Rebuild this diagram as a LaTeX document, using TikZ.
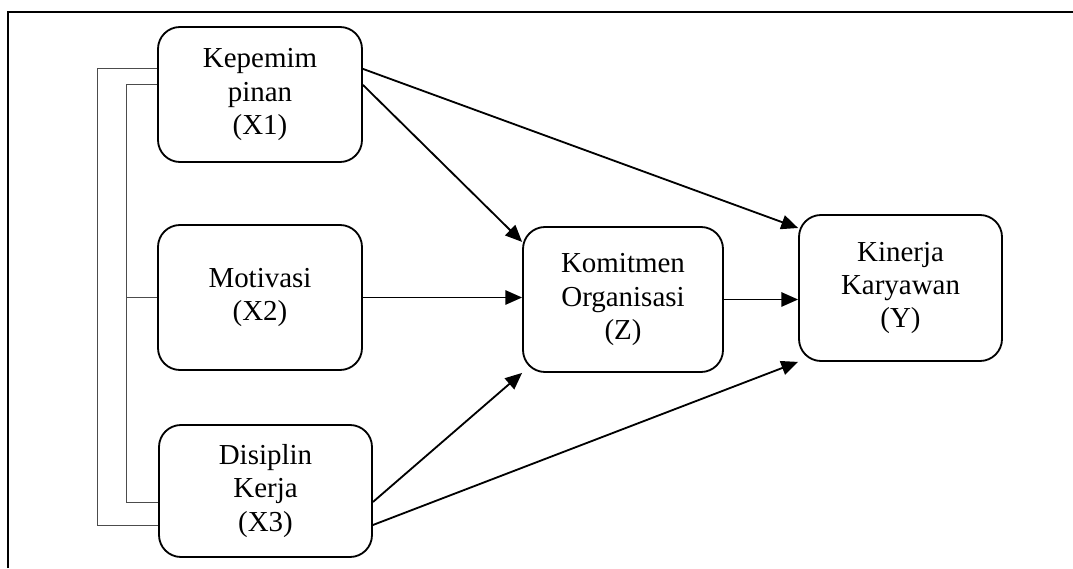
\documentclass[tikz,border=0pt]{standalone}
\usepackage{fontspec}
\setmainfont{Liberation Serif}
\usepackage{tikz}
\usetikzlibrary{positioning,calc,arrows.meta}

\tikzset{
    box/.style={draw, line width=1.3pt, rounded corners=5.5mm, align=center, inner sep=0pt,
        font=\fontsize{20.6}{23.5}\selectfont},
    link/.style={draw=black!70, line width=0.7pt},
    arrow/.style={line width=1.3pt, -{Triangle[length=4.2mm, width=3.6mm]}}
}

\begin{document}
\begin{tikzpicture}
    \useasboundingbox (0,0) rectangle (26.825,14.2);
    % Frame
    \draw[line width=1.5pt] (0.2,0) -- (0.2,13.9) -- (26.825,13.9);

    % Independent variables
    \node[box, minimum width=5.1cm, minimum height=3.375cm] (x1) at (6.5,11.8375) {Kepemim\\pinan\\(X1)};
    \node[box, minimum width=5.1cm, minimum height=3.625cm] (x2) at (6.5,6.7625) {Motivasi\\(X2)};
    \node[box, minimum width=5.325cm, minimum height=3.3cm] (x3) at (6.6375,1.925) {Disiplin\\Kerja\\(X3)};

    % Mediator and outcome
    \node[box, minimum width=5cm, minimum height=3.625cm] (kz) at (15.575,6.7125) {Komitmen\\Organisasi\\(Z)};
    \node[box, minimum width=5.075cm, minimum height=3.65cm] (ky) at (22.5125,7.0) {Kinerja\\Karyawan\\(Y)};

    % Correlation lines
    \draw[link] ($(x1.west)+(0,0.64)$) -- ++(-1.5,0) |- ($(x3.west)+(0,-0.85)$);
    \coordinate (inner) at ($(x1.west)+(-0.775,0.24)$);
    \draw[link] ($(x1.west)+(0,0.24)$) -- (inner) |- ($(x3.west)+(0,-0.275)$);
    \draw[link] (x2.west) -- (x2.west -| inner);

    % Paths
    \draw[arrow] ($(x1.east)+(0,0.64)$) -- ($(ky.west)+(0,1.5)$);
    \draw[arrow] ($(x1.east)+(0,0.24)$) -- ($(kz.west)+(0,1.44)$);
    \draw[arrow] (x2.east) -- (x2.east -| kz.west);
    \draw[arrow] (kz.east) -- (kz.east -| ky.west);
    \draw[arrow] ($(x3.east)+(0,-0.275)$) -- (kz.south west);
    \draw[arrow] ($(x3.east)+(0,-0.85)$) -- (ky.south west);
\end{tikzpicture}
\end{document}
